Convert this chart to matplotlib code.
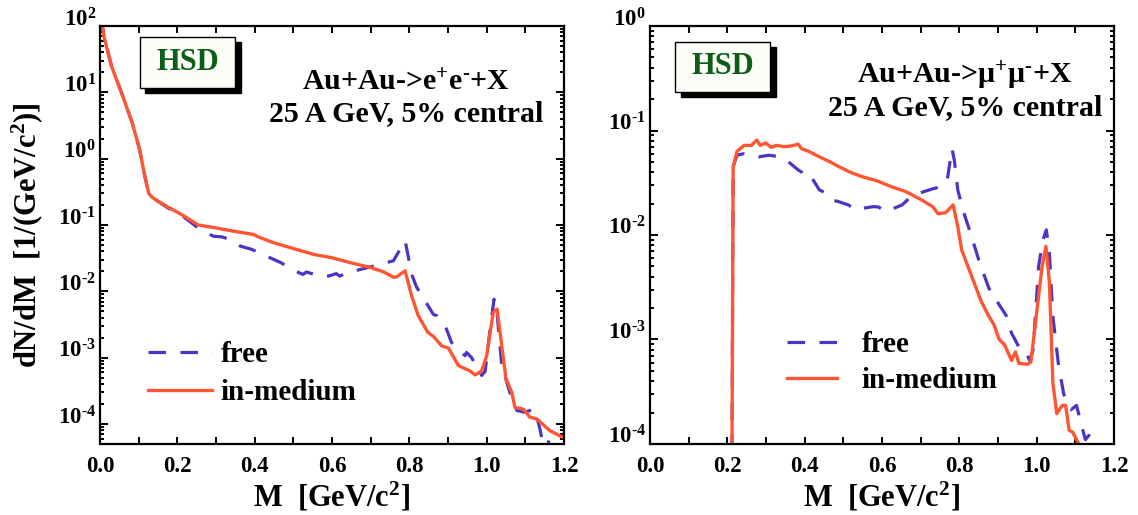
import matplotlib
matplotlib.use("Agg")
import matplotlib.pyplot as plt
from matplotlib.patches import Rectangle
from matplotlib.ticker import MultipleLocator, LogLocator, NullFormatter, FixedLocator, FixedFormatter

plt.rcParams['font.family'] = ['Liberation Serif', 'DejaVu Serif']
plt.rcParams['font.weight'] = 'bold'
plt.rcParams['axes.labelweight'] = 'bold'
plt.rcParams['mathtext.fontset'] = 'custom'
plt.rcParams['mathtext.rm'] = 'Liberation Serif:bold'
plt.rcParams['mathtext.bf'] = 'Liberation Serif:bold'
plt.rcParams['mathtext.it'] = 'Liberation Serif:bold'
plt.rcParams['mathtext.default'] = 'bf'

# --- data ---
# left: Au+Au -> e+e- + X
m_ee_free = [0.003, 0.01, 0.03, 0.059, 0.083, 0.102, 0.116, 0.126, 0.135, 0.173, 0.211, 0.249,
             0.292, 0.316, 0.339, 0.363, 0.392, 0.43, 0.468, 0.506, 0.525, 0.534, 0.563, 0.591,
             0.611, 0.62, 0.639, 0.668, 0.707, 0.740, 0.759, 0.776, 0.789, 0.795, 0.806, 0.819,
             0.849, 0.862, 0.871, 0.896, 0.909, 0.944, 0.948, 0.961, 0.987, 0.996, 1.009, 1.019,
             1.026, 1.039, 1.060, 1.078, 1.099, 1.121, 1.129, 1.138, 1.151, 1.164, 1.175, 1.19, 1.205]
y_ee_free = [130, 70, 24.5, 8.7, 3.5, 1.4, 0.54, 0.30, 0.26, 0.185, 0.14, 0.095,
             0.068, 0.066, 0.06, 0.048, 0.043, 0.034, 0.027, 0.020, 0.018, 0.0196, 0.0173, 0.017,
             0.0185, 0.017, 0.019, 0.021, 0.024, 0.027, 0.029, 0.043, 0.058, 0.039, 0.018, 0.0115,
             0.006, 0.0045, 0.0043, 0.0027, 0.0017, 0.00107, 0.0012, 0.001, 0.00054, 0.00062, 0.0027, 0.0076,
             0.0054, 0.00076, 0.0003, 0.00016, 0.00015, 0.000168, 0.000133, 8.3e-5, 3.5e-5, 6.5e-5, 3.5e-5, 6e-5, 5.5e-5]

m_ee_med = [0.003, 0.01, 0.03, 0.059, 0.083, 0.102, 0.116, 0.126, 0.135, 0.173, 0.211, 0.254,
            0.297, 0.344, 0.397, 0.41, 0.449, 0.501, 0.553, 0.601, 0.648, 0.698, 0.734, 0.759,
            0.767, 0.789, 0.806, 0.823, 0.848, 0.862, 0.884, 0.901, 0.927, 0.957, 0.970, 0.987,
            1.0, 1.013, 1.017, 1.027, 1.039, 1.050, 1.065, 1.073, 1.095, 1.112, 1.129, 1.164, 1.207]
y_ee_med = [130, 70, 24.5, 8.7, 3.5, 1.4, 0.54, 0.30, 0.26, 0.19, 0.144, 0.10,
            0.091, 0.081, 0.072, 0.066, 0.054, 0.044, 0.036, 0.032, 0.027, 0.023, 0.0196, 0.0163,
            0.0165, 0.0204, 0.0085, 0.0043, 0.0024, 0.0021, 0.0015, 0.0014, 0.00076, 0.00063, 0.00055, 0.00063,
            0.00107, 0.0034, 0.0048, 0.0054, 0.0015, 0.00048, 0.0003, 0.000178, 0.000168, 0.000126, 0.00012, 7.9e-5, 5.9e-5]

# right: Au+Au -> mu+mu- + X
m_mm_free = [0.211, 0.215, 0.225, 0.243, 0.281, 0.308, 0.336, 0.35, 0.383, 0.392, 0.401, 0.415,
             0.438, 0.457, 0.471, 0.485, 0.513, 0.531, 0.550, 0.578, 0.592, 0.606, 0.624, 0.652,
             0.675, 0.708, 0.736, 0.755, 0.769, 0.781, 0.787, 0.796, 0.810, 0.829, 0.852, 0.875,
             0.889, 0.898, 0.921, 0.935, 0.954, 0.968, 0.982, 0.991, 1.005, 1.016, 1.025, 1.033,
             1.042, 1.056, 1.070, 1.089, 1.103, 1.117, 1.126, 1.135, 1.145, 1.15]
y_mm_free = [1e-5, 0.045, 0.058, 0.06, 0.056, 0.058, 0.056, 0.053, 0.042, 0.04, 0.036, 0.037,
             0.027, 0.025, 0.0215, 0.021, 0.0194, 0.0174, 0.018, 0.0187, 0.0185, 0.0168, 0.0176, 0.0194,
             0.0233, 0.026, 0.028, 0.029, 0.034, 0.067, 0.052, 0.027, 0.017, 0.0104, 0.0055, 0.0032,
             0.0024, 0.0023, 0.0017, 0.00115, 0.00085, 0.00082, 0.00063, 0.0008, 0.005, 0.0089, 0.0112, 0.0066,
             0.00166, 0.00059, 0.0003, 0.000213, 0.000234, 0.000147, 0.00011, 0.000121, 1e-4, 8e-5]

m_mm_med = [0.211, 0.215, 0.225, 0.243, 0.262, 0.276, 0.285, 0.299, 0.313, 0.327, 0.346, 0.364,
            0.383, 0.392, 0.411, 0.438, 0.466, 0.489, 0.517, 0.550, 0.587, 0.624, 0.662, 0.699,
            0.731, 0.745, 0.764, 0.784, 0.796, 0.806, 0.829, 0.857, 0.875, 0.889, 0.903, 0.917,
            0.935, 0.945, 0.954, 0.977, 0.985, 1.0, 1.014, 1.024, 1.033, 1.042, 1.052, 1.066,
            1.075, 1.084, 1.093, 1.109, 1.12]
y_mm_med = [1e-5, 0.045, 0.063, 0.072, 0.072, 0.081, 0.072, 0.076, 0.069, 0.072, 0.07, 0.071,
            0.074, 0.067, 0.063, 0.056, 0.050, 0.045, 0.040, 0.036, 0.033, 0.029, 0.026, 0.022,
            0.0187, 0.016, 0.0163, 0.0194, 0.012, 0.0072, 0.0043, 0.0023, 0.0017, 0.0014, 0.001, 0.00089,
            0.00063, 0.00076, 0.00059, 0.00058, 0.00061, 0.0018, 0.005, 0.0078, 0.0035, 0.00038, 0.000195, 0.000234,
            0.000234, 0.000135, 0.00013, 1e-4, 8e-5]

x_ticks = [0.0, 0.2, 0.4, 0.6, 0.8, 1.0, 1.2]
x_ticklabels = ['0.0', '0.2', '0.4', '0.6', '0.8', '1.0', '1.2']
reactions = [r'Au+Au->e$^{+}$e$^{\text{-}}$+X', 'Au+Au->\u03bc$^{+}$\u03bc$^{\\text{-}}$+X']
subtitle = '25 A GeV, 5% central'
series_labels = ['free', 'in-medium']

blue = '#4a35c4'
red = '#ff5533'
green = '#0b5e17'

fig = plt.figure(figsize=(11.38, 5.15), dpi=100)
ax1 = fig.add_axes([0.0879, 0.1379, 0.4077, 0.8116])
ax2 = fig.add_axes([0.5712, 0.1379, 0.4077, 0.8116])


def exp_label(d):
    if d < 0:
        return r'10$^{\text{-}%d}$' % (-d)
    return '10$^{%d}$' % d


def style_axes(ax, ylo, yhi, decades):
    ax.set_yscale('log')
    ax.set_xlim(0, 1.2)
    ax.set_ylim(ylo, yhi)
    ax.xaxis.set_major_locator(FixedLocator(x_ticks))
    ax.xaxis.set_major_formatter(FixedFormatter(x_ticklabels))
    ax.xaxis.set_minor_locator(MultipleLocator(0.1))
    ax.yaxis.set_major_locator(FixedLocator([10.0 ** d for d in decades]))
    ax.yaxis.set_major_formatter(FixedFormatter([exp_label(d) for d in decades]))
    ax.yaxis.set_minor_locator(LogLocator(base=10, subs=range(2, 10), numticks=20))
    ax.yaxis.set_minor_formatter(NullFormatter())
    ax.tick_params(which='both', direction='in', top=True, right=True, width=1.4)
    ax.tick_params(axis='x', which='both', length=5, labelsize=16.5, pad=9)
    ax.tick_params(axis='y', which='major', length=6, labelsize=16.5, pad=3)
    ax.tick_params(axis='y', which='minor', length=3)
    for lab in ax.get_yticklabels():
        lab.set_verticalalignment('baseline')
    for s in ax.spines.values():
        s.set_linewidth(1.6)
    ax.set_xlabel('M  [GeV/c$^{2}$]', fontsize=22, labelpad=2)


def hsd_box(ax, x0, y0, w, h):
    ax.add_patch(Rectangle((x0 + 0.012, y0 - 0.012), w, h, transform=ax.transAxes,
                           facecolor='black', edgecolor='black', zorder=5, clip_on=False))
    ax.add_patch(Rectangle((x0, y0), w, h, transform=ax.transAxes,
                           facecolor='#fdfdf8', edgecolor='black', linewidth=1.0, zorder=6, clip_on=False))
    ax.text(x0 + w / 2, y0 + h / 2, 'HSD', transform=ax.transAxes, ha='center', va='center',
            color=green, fontsize=22, zorder=7)


# left panel
ax1.plot(m_ee_free, y_ee_free, color=blue, lw=2.3, dashes=(5.5, 4.5), label=series_labels[0])
ax1.plot(m_ee_med, y_ee_med, color=red, lw=2.4, label=series_labels[1])
style_axes(ax1, 5e-5, 100, range(-4, 3))
ax1.set_ylabel('dN/dM  [1/(GeV/c$^{2}$)]', fontsize=22, labelpad=9)
hsd_box(ax1, 0.086, 0.852, 0.205, 0.122)
ax1.text(0.66, 0.898, reactions[0] + '\n' + subtitle, transform=ax1.transAxes,
         ha='center', va='top', fontsize=21.5, linespacing=1.2)
ax1.legend(loc='upper left', bbox_to_anchor=(0.103, 0.246), frameon=False, fontsize=21,
           handlelength=2.2, handletextpad=0.3, labelspacing=0.38, borderpad=0, borderaxespad=0)

# right panel
ax2.plot(m_mm_free, y_mm_free, color=blue, lw=2.3, dashes=(5.5, 4.5), label=series_labels[0])
ax2.plot(m_mm_med, y_mm_med, color=red, lw=2.4, label=series_labels[1])
style_axes(ax2, 1e-4, 1, range(-4, 1))
hsd_box(ax2, 0.054, 0.842, 0.205, 0.12)
ax2.text(0.679, 0.92, reactions[1] + '\n' + subtitle, transform=ax2.transAxes,
         ha='center', va='top', fontsize=21.5, linespacing=1.15)
ax2.legend(loc='upper left', bbox_to_anchor=(0.296, 0.271), frameon=False, fontsize=21,
           handlelength=1.7, handletextpad=0.85, labelspacing=0.32, borderpad=0, borderaxespad=0)

fig.savefig('out.png', dpi=100)
